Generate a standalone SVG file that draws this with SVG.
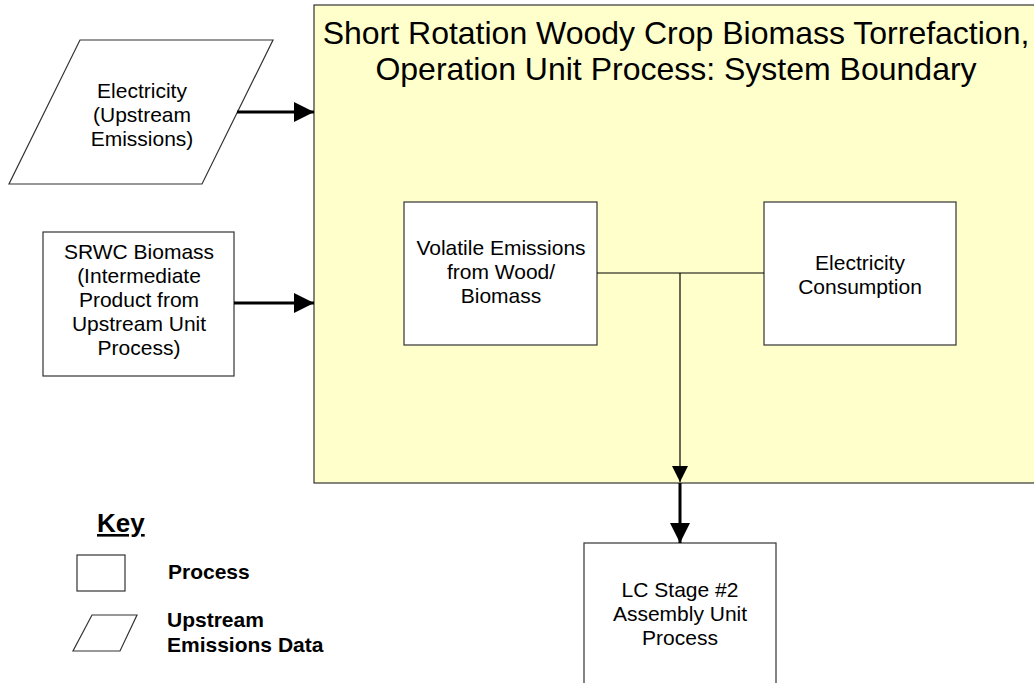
<svg xmlns="http://www.w3.org/2000/svg" width="1034" height="683" viewBox="0 0 1034 683">
  <style>
    .box { fill: #ffffff; stroke: #333333; stroke-width: 1.2; }
    .lbl { font-family: "Liberation Sans", Arial, sans-serif; font-size: 21px; fill: #000000; text-anchor: middle; }
    .title { font-size: 32px; }
    .key { font-family: "Liberation Sans", Arial, sans-serif; font-size: 21px; font-weight: bold; fill: #000000; }
    .thin { stroke: #000000; stroke-width: 1.2; fill: none; }
    .thick { stroke: #000000; stroke-width: 3; fill: none; }
  </style>
  <defs>
    <marker id="headBig" markerUnits="userSpaceOnUse" markerWidth="20" markerHeight="20" viewBox="0 0 20 20" refX="20" refY="10" orient="auto">
      <path d="M0,0 L20,10 L0,20 Z" fill="#000000"/>
    </marker>
    <marker id="headSmall" markerUnits="userSpaceOnUse" markerWidth="16" markerHeight="16" viewBox="0 0 16 16" refX="16" refY="8" orient="auto">
      <path d="M0,0 L16,8 L0,16 Z" fill="#000000"/>
    </marker>
  </defs>

  <rect width="1034" height="683" fill="#ffffff"/>

  <!-- system boundary -->
  <g id="boundary">
    <rect x="314" y="5" width="730" height="478" fill="#ffffcc" stroke="#333333" stroke-width="1.2"/>
    <text class="lbl title" x="676" y="44">Short Rotation Woody Crop Biomass Torrefaction,</text>
    <text class="lbl title" x="676" y="80">Operation Unit Process: System Boundary</text>
  </g>

  <!-- inputs -->
  <g id="electricity-upstream">
    <polygon class="box" points="80,40 273,40 202,184 9,184"/>
    <text class="lbl" x="142" y="98">Electricity</text>
    <text class="lbl" x="142" y="122">(Upstream</text>
    <text class="lbl" x="142" y="146">Emissions)</text>
  </g>

  <g id="srwc-biomass">
    <rect class="box" x="43" y="232" width="191" height="144"/>
    <text class="lbl" x="139" y="259">SRWC Biomass</text>
    <text class="lbl" x="139" y="283">(Intermediate</text>
    <text class="lbl" x="139" y="307">Product from</text>
    <text class="lbl" x="139" y="331">Upstream Unit</text>
    <text class="lbl" x="139" y="355">Process)</text>
  </g>

  <!-- processes inside boundary -->
  <g id="volatile-emissions">
    <rect class="box" x="404" y="202" width="193" height="143"/>
    <text class="lbl" x="501" y="255">Volatile Emissions</text>
    <text class="lbl" x="501" y="279">from Wood/</text>
    <text class="lbl" x="501" y="303">Biomass</text>
  </g>

  <g id="electricity-consumption">
    <rect class="box" x="764" y="202" width="192" height="143"/>
    <text class="lbl" x="860" y="270">Electricity</text>
    <text class="lbl" x="860" y="294">Consumption</text>
  </g>

  <!-- downstream -->
  <g id="lc-stage-2">
    <rect class="box" x="584" y="543" width="192" height="160"/>
    <text class="lbl" x="680" y="597">LC Stage #2</text>
    <text class="lbl" x="680" y="621">Assembly Unit</text>
    <text class="lbl" x="680" y="645">Process</text>
  </g>

  <!-- connectors -->
  <g id="connectors">
    <line class="thick" x1="237" y1="112" x2="314" y2="112" marker-end="url(#headBig)"/>
    <line class="thick" x1="234" y1="303" x2="314" y2="303" marker-end="url(#headBig)"/>
    <line class="thin" x1="597" y1="273" x2="764" y2="273"/>
    <line class="thin" x1="680" y1="273" x2="680" y2="482" marker-end="url(#headSmall)"/>
    <line class="thick" x1="680" y1="483" x2="680" y2="543" marker-end="url(#headBig)"/>
  </g>

  <!-- key -->
  <g id="legend">
    <text class="key" style="font-size:26px;text-decoration:underline" x="97" y="532">Key</text>
    <rect class="box" x="77" y="555" width="48" height="36"/>
    <text class="key" x="168" y="579">Process</text>
    <polygon class="box" points="92,615 137,615 120,651 73,651"/>
    <text class="key" x="167" y="627">Upstream</text>
    <text class="key" x="167" y="652">Emissions Data</text>
  </g>
</svg>
